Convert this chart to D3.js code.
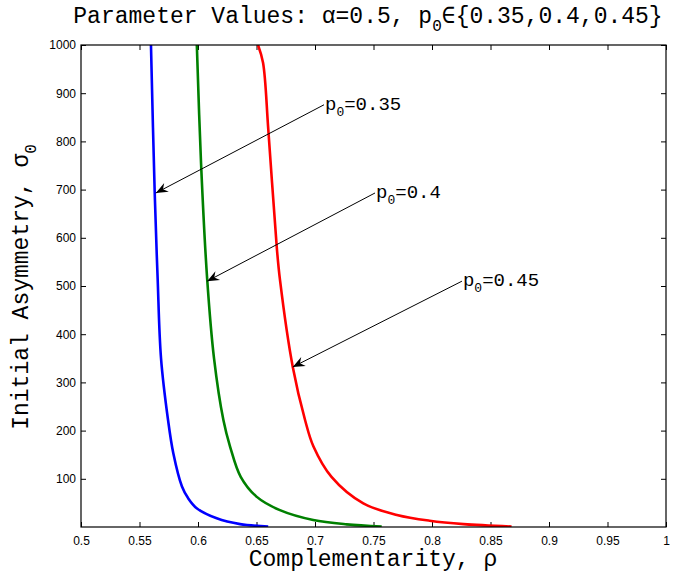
<!DOCTYPE html>
<html>
<head>
<meta charset="utf-8">
<script src="https://cdn.jsdelivr.net/npm/d3@7"></script>
<style>
  body { margin: 0; background: #fff; }
  .tick text { font-family: "Liberation Sans", Arial, sans-serif; font-size: 12px; fill: #000; }
  .mono { font-family: "Liberation Mono", "Courier New", monospace; fill: #000; }
</style>
</head>
<body>
<div id="chart"></div>
<script>
/* Data */
/* ========================== */

// p0 = 0.35 (blue)
var rho035 =   [0.5598, 0.5630, 0.5655, 0.5684, 0.5744, 0.5789, 0.5863, 0.5915, 0.5989, 0.616, 0.636, 0.660];
var sigma035 = [1000,   693,    516,    350,    222,    153,    84,     60,     39,     18,    6,     1];

// p0 = 0.4 (green)
var rho040 =   [0.599, 0.6026, 0.6078, 0.6137, 0.6217, 0.6274, 0.6365, 0.650, 0.670, 0.6985, 0.727, 0.757];
var sigma040 = [1000,  755,    516,    350,    222,    167,    104,    63,    35,    14.5,   5.5,   1];

// p0 = 0.45 (red)
var rho045 =   [0.6513, 0.6556, 0.6601, 0.6673, 0.6701, 0.681, 0.6915, 0.6987, 0.7141, 0.7413, 0.770, 0.798, 0.827, 0.868];
var sigma045 = [1000,   963,    824,    581,    512,    332,   222,    167,    104,    49,     25,    13,    6,     1];

var seriesNames  = ['0.35', '0.4', '0.45'];
var seriesColors = ['#0000ff', '#008000', '#ff0000'];

// annotation: text anchor (rho, sigma) and arrow tip (rho, sigma)
var labelRho   = [0.7077, 0.7513, 0.8256];
var labelSigma = [876, 693, 510];
var tipRho     = [0.5640, 0.6078, 0.681];
var tipSigma   = [693, 510, 332];

var xTicks = [0.5, 0.55, 0.6, 0.65, 0.7, 0.75, 0.8, 0.85, 0.9, 0.95, 1];
var yTicks = [100, 200, 300, 400, 500, 600, 700, 800, 900, 1000];


var width = 681,
    height = 573,
    margin = {top: 45, right: 15, bottom: 46, left: 81},
    w = 666 - margin.left,
    h = 527 - margin.top;

var svg = d3.select('#chart').append('svg')
    .attr('width', width)
    .attr('height', height);

var g = svg.append('g')
    .attr('transform', 'translate(' + margin.left + ',' + margin.top + ')');

var x = d3.scaleLinear().domain([0.5, 1]).range([0, w]);
var y = d3.scaleLinear().domain([0, 1000]).range([h, 0]);

// axes, ticks pointing inward like matlab
g.append('g')
    .attr('transform', 'translate(0,' + h + ')')
    .call(d3.axisBottom(x).tickValues(xTicks).tickSize(-5).tickPadding(9).tickFormat(d3.format('')))
    .call(function(a) { a.select('.domain').remove(); });

g.append('g')
    .call(d3.axisLeft(y).tickValues(yTicks).tickSize(-5).tickPadding(5).tickFormat(d3.format('d')))
    .call(function(a) { a.select('.domain').remove(); });

g.append('g')
    .call(d3.axisTop(x).tickValues(xTicks).tickSize(-5).tickFormat(''))
    .call(function(a) { a.select('.domain').remove(); });

g.append('g')
    .attr('transform', 'translate(' + w + ',0)')
    .call(d3.axisRight(y).tickValues(yTicks).tickSize(-5).tickFormat(''))
    .call(function(a) { a.select('.domain').remove(); });

// curves
var line = d3.line()
    .x(function(d) { return x(d[0]); })
    .y(function(d) { return y(d[1]); })
    .curve(d3.curveCatmullRom.alpha(0.5));

var series = [d3.zip(rho035, sigma035), d3.zip(rho040, sigma040), d3.zip(rho045, sigma045)];

g.append('defs').append('clipPath').attr('id', 'clip')
  .append('rect').attr('width', w).attr('height', h);

g.append('g').attr('clip-path', 'url(#clip)')
  .selectAll('path')
  .data(series)
  .enter().append('path')
    .attr('d', line)
    .attr('fill', 'none')
    .attr('stroke', function(d, i) { return seriesColors[i]; })
    .attr('stroke-width', 2.6);

// frame
g.append('rect')
    .attr('width', w)
    .attr('height', h)
    .attr('fill', 'none')
    .attr('stroke', '#000')
    .attr('stroke-width', 1.2);

// arrow annotations
seriesNames.forEach(function(name, i) {
  var x0 = x(labelRho[i]), y0 = y(labelSigma[i]),
      x1 = x(tipRho[i]),   y1 = y(tipSigma[i]);

  g.append('line')
      .attr('x1', x0).attr('y1', y0)
      .attr('x2', x1).attr('y2', y1)
      .attr('stroke', '#000')
      .attr('stroke-width', 1);

  // arrow head
  var ang = Math.atan2(y1 - y0, x1 - x0), L = 12, W = 5, back = 8;
  var ux = Math.cos(ang), uy = Math.sin(ang);
  var p1 = [x1 - L * ux - W * uy, y1 - L * uy + W * ux],
      p2 = [x1 - back * ux, y1 - back * uy],
      p3 = [x1 - L * ux + W * uy, y1 - L * uy - W * ux];
  g.append('path')
      .attr('d', 'M' + x1 + ',' + y1 + 'L' + p1 + 'L' + p2 + 'L' + p3 + 'Z')
      .attr('fill', '#000');

  var t = g.append('text')
      .attr('class', 'mono')
      .attr('x', x0 + 1)
      .attr('y', y0 + 5)
      .style('font-size', '19px');
  t.append('tspan').text('p');
  t.append('tspan').attr('dy', 6).style('font-size', '13px').text('0');
  t.append('tspan').attr('dy', -6).text('=' + name);
});

// title
var title = svg.append('text')
    .attr('class', 'mono')
    .attr('x', 368)
    .attr('y', 23)
    .attr('text-anchor', 'middle')
    .style('font-size', '23px');
title.append('tspan').text('Parameter Values: \u03b1=0.5, p');
title.append('tspan').attr('dy', 8).style('font-size', '16px').text('0');
title.append('tspan').attr('dy', -8).text('\u2208{0.35,0.4,0.45}');

// x label
svg.append('text')
    .attr('class', 'mono')
    .attr('x', 373)
    .attr('y', 566)
    .attr('text-anchor', 'middle')
    .style('font-size', '23px')
    .text('Complementarity, \u03c1');

// y label
var yl = svg.append('text')
    .attr('class', 'mono')
    .attr('transform', 'translate(28,287) rotate(-90)')
    .attr('text-anchor', 'middle')
    .style('font-size', '23px');
yl.append('tspan').text('Initial Asymmetry,  \u03c3');
yl.append('tspan').attr('dy', 8).style('font-size', '16px').text('0');
</script>
</body>
</html>
